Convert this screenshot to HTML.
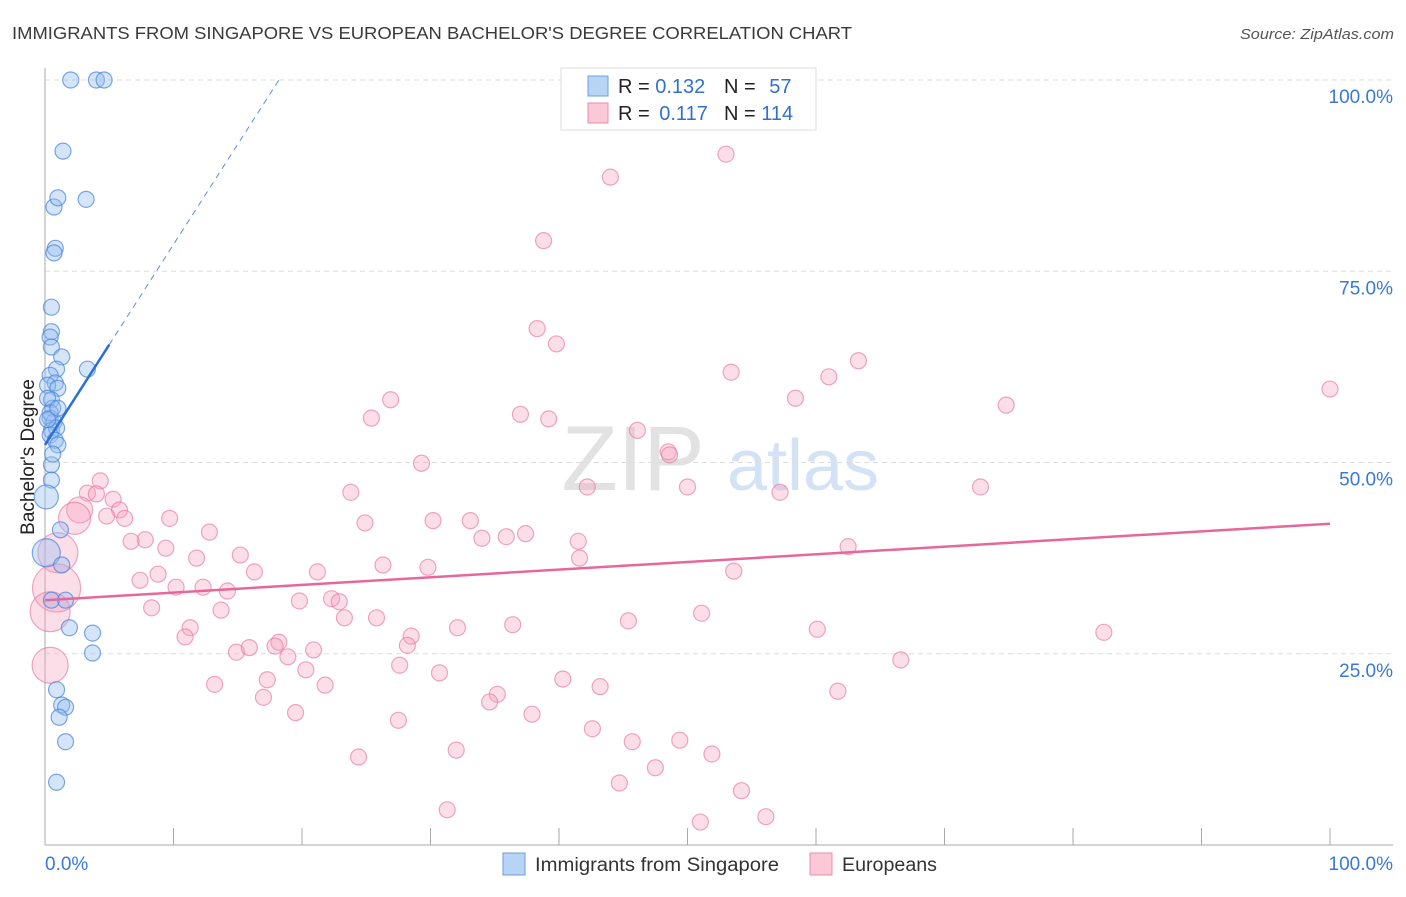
<!DOCTYPE html>
<html><head><meta charset="utf-8">
<style>
body{margin:0;background:#fff;font-family:"Liberation Sans",sans-serif;}
svg text{font-family:"Liberation Sans",sans-serif;}
</style></head>
<body>
<svg id="chart" width="1406" height="892" xmlns="http://www.w3.org/2000/svg">
<text x="12" y="39" font-size="17.5" fill="#3a3a3a" textLength="840" lengthAdjust="spacingAndGlyphs">IMMIGRANTS FROM SINGAPORE VS EUROPEAN BACHELOR'S DEGREE CORRELATION CHART</text>
<text x="1240" y="39" font-size="15" fill="#555" font-style="italic" textLength="154" lengthAdjust="spacingAndGlyphs">Source: ZipAtlas.com</text>
<g>
<text x="633" y="490" font-size="92" fill="#e2e2e2" text-anchor="middle" font-family="Liberation Serif, serif">ZIP</text>
<text x="803" y="490" font-size="72" fill="#d3e3f5" text-anchor="middle">atlas</text>
</g>
<g id="grid"></g>
<g id="axes"></g>
<g id="pts"></g>
<g id="trend"></g>
<g>
<rect x="561" y="68" width="255" height="62" fill="#fff" stroke="#ddd"/>
<rect x="588" y="76" width="20" height="20" fill="#b8d4f5" stroke="#6a9fe0"/>
<rect x="588" y="103" width="20" height="20" fill="#fac8d7" stroke="#ea8cab"/>
<text x="618" y="93" font-size="20" fill="#222">R = <tspan fill="#3070d0">0.132</tspan></text>
<text x="724" y="93" font-size="20" fill="#222">N = <tspan fill="#3070d0" dx="8">57</tspan></text>
<text x="618" y="120" font-size="20" fill="#222">R = <tspan fill="#3070d0" dx="4">0.117</tspan></text>
<text x="724" y="120" font-size="20" fill="#222">N = <tspan fill="#3070d0">114</tspan></text>
</g>
<g>
<rect x="503" y="853" width="22" height="22" fill="#b8d4f5" stroke="#6a9fe0"/>
<text x="535" y="871" font-size="19" fill="#333" textLength="244" lengthAdjust="spacingAndGlyphs">Immigrants from Singapore</text>
<rect x="810" y="853" width="22" height="22" fill="#fac8d7" stroke="#ea8cab"/>
<text x="842" y="871" font-size="19" fill="#333" textLength="95" lengthAdjust="spacingAndGlyphs">Europeans</text>
</g>
<text transform="translate(34,457) rotate(-90)" font-size="19" fill="#222" text-anchor="middle">Bachelor's Degree</text>
</svg>
<script>
const blueX=[2.0,4.0,4.6,1.4,0.7,1.0,3.2,0.8,0.7,0.5,0.5,0.4,0.5,1.3,3.3,0.9,0.4,0.8,0.2,1.0,0.5,0.6,0.4,0.7,0.5,0.9,0.4,0.8,1.0,0.5,0.5,0.1,1.2,0.1,1.3,0.5,1.6,1.9,3.7,3.7,0.9,1.3,1.6,1.1,1.6,0.9,0.2,0.6,0.4,1.0,0.2];
const blueY=[100,100,100,90.7,83.4,84.6,84.4,78.0,77.4,70.3,67.1,66.4,65.1,63.8,62.2,62.2,61.4,60.4,60.1,59.7,58.2,57.1,55.8,55.3,54.2,54.5,53.6,52.9,52.3,49.7,47.7,45.5,41.2,38.2,36.6,32.0,32.0,28.4,27.7,25.1,20.3,18.3,18.0,16.7,13.5,8.2,58.4,51.1,56.5,57.1,55.6];
const blueR=[8,8,8,8,8,8,8,8,8,8,8,8,8,8,8,8,8,8,8,8,8,8,8,8,8,8,8,8,8,8,8,12,8,14,8,8,8,8,8,8,8,8,8,8,8,8,8,8,8,8,8];
const pinkX=[53.0,44.0,38.8,38.3,39.8,63.3,53.4,61.0,100,26.9,58.4,74.8,37.0,25.4,39.2,46.1,48.5,48.6,29.3,42.2,50.0,57.2,72.8,23.8,4.3,3.3,5.3,4.0,2.7,5.8,4.8,6.2,2.3,9.7,24.9,30.2,33.1,7.8,6.7,9.4,12.8,15.2,34.0,35.9,37.4,41.5,62.5,1.0,11.8,8.8,16.3,7.4,26.3,29.8,41.6,53.6,21.2,10.2,12.3,14.2,0.9,0.4,8.3,13.7,19.8,22.3,22.9,23.3,25.8,51.1,45.4,36.4,32.1,60.1,82.4,11.3,10.9,28.5,18.2,17.9,14.9,15.9,20.9,18.9,28.2,27.6,20.3,30.7,66.6,13.2,17.3,21.8,40.3,43.2,61.7,35.2,34.6,17.0,19.5,27.5,37.9,42.6,45.7,49.4,24.4,32.0,51.9,47.5,44.7,54.2,31.3,51.0,56.1,0.4];
const pinkY=[90.3,87.3,79.0,67.5,65.5,63.3,61.8,61.2,59.6,58.2,58.4,57.5,56.3,55.8,55.7,54.2,51.4,51.0,49.9,46.8,46.8,46.1,46.8,46.1,47.6,46.0,45.2,45.9,43.8,43.8,43.0,42.7,42.7,42.7,42.1,42.4,42.4,39.9,39.7,38.8,40.9,37.9,40.1,40.3,40.7,39.7,39.0,38.2,37.5,35.4,35.7,34.6,36.6,36.3,37.5,35.8,35.7,33.7,33.7,33.2,33.6,30.5,31.0,30.7,31.9,32.2,31.8,29.7,29.7,30.3,29.3,28.8,28.4,28.2,27.8,28.4,27.2,27.3,26.5,26.0,25.2,25.8,25.5,24.6,26.1,23.5,22.9,22.5,24.2,21.0,21.6,20.9,21.7,20.7,20.1,19.7,18.7,19.3,17.3,16.3,17.1,15.2,13.5,13.7,11.5,12.4,11.9,10.1,8.1,7.1,4.6,3.0,3.7,23.5];
const pinkR={28:13,32:16,47:20,60:24,61:20,113:18};
const yTicks=[25,50,75,100];
const yTickLabels=["25.0%","50.0%","75.0%","100.0%"];
const blueTrend=[52.3,2.62];  // intercept, slope
const pinkTrend=[32.0,0.10];

const X=v=>45+v*12.85, Y=v=>845-v*7.65;
const NS="http://www.w3.org/2000/svg";
function mk(tag,attrs,parent){const e=document.createElementNS(NS,tag);for(const k in attrs)e.setAttribute(k,attrs[k]);parent.appendChild(e);return e;}
const grid=document.getElementById('grid'),axes=document.getElementById('axes'),pts=document.getElementById('pts'),tr=document.getElementById('trend');
yTicks.forEach((t,i)=>{
  const l=mk('line',{x1:45,x2:1393,y1:Y(t),y2:Y(t),stroke:'#ddd','stroke-dasharray':'5,4'},grid);
  
  
  const tx=mk('text',{x:1393,y:Y(t)+23,'font-size':19,fill:'#3a78d6','text-anchor':'end'},axes);
  tx.textContent=yTickLabels[i];
  
  
});
let a=mk('line',{x1:45,x2:45,y1:68,y2:845,stroke:'#aaa'},axes);


a=mk('line',{x1:45,x2:1393,y1:845,y2:845,stroke:'#aaa'},axes);


for(let i=0;i<=10;i++){const t=mk('line',{x1:X(i*10),x2:X(i*10),y1:828,y2:845,stroke:'#aaa'},axes);

}
let xl=mk('text',{x:45,y:870,'font-size':19,fill:'#3a78d6'},axes);xl.textContent='0.0%';


xl=mk('text',{x:1393,y:870,'font-size':19,fill:'#3a78d6','text-anchor':'end'},axes);xl.textContent='100.0%';


pinkX.forEach((v,i)=>{const c=mk('circle',{cx:X(v),cy:Y(pinkY[i]),r:pinkR[i]||8,fill:'rgba(245,160,188,0.35)',stroke:'rgba(230,120,160,0.65)','stroke-width':1.2},pts);

});
blueX.forEach((v,i)=>{const c=mk('circle',{cx:X(v),cy:Y(blueY[i]),r:blueR[i],fill:'rgba(150,190,240,0.4)',stroke:'rgba(70,130,220,0.7)','stroke-width':1.2},pts);

});
let t=mk('line',{x1:X(0),y1:Y(pinkTrend[0]),x2:X(100),y2:Y(pinkTrend[0]+pinkTrend[1]*100),stroke:'#e8679a','stroke-width':2.5},tr);


t=mk('line',{x1:X(0),y1:Y(blueTrend[0]),x2:X(5),y2:Y(blueTrend[0]+blueTrend[1]*5),stroke:'#2a6fd6','stroke-width':2.5},tr);


const xe=(100-blueTrend[0])/blueTrend[1];
t=mk('line',{x1:X(5),y1:Y(blueTrend[0]+blueTrend[1]*5),x2:X(xe),y2:Y(100),stroke:'#5a8fe0','stroke-width':1,'stroke-dasharray':'6,5'},tr);


</script>
</body></html>
